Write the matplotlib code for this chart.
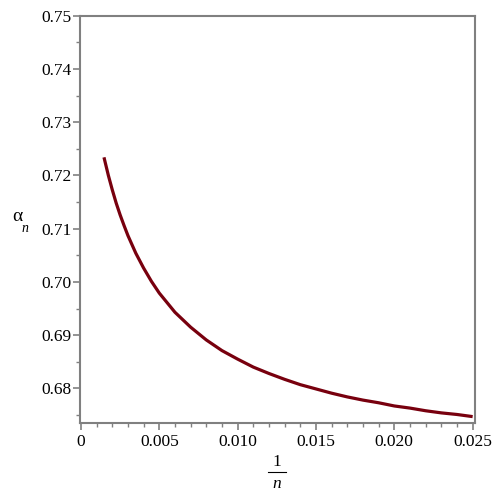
import matplotlib
matplotlib.use("Agg")
import matplotlib.pyplot as plt
from matplotlib.lines import Line2D

# Data
inv_n = [0.00147, 0.00175, 0.0020, 0.00225, 0.0025, 0.00275, 0.0030, 0.0035,
         0.0040, 0.0045, 0.0050, 0.0060, 0.0070, 0.0080, 0.0090, 0.0100,
         0.0110, 0.0120, 0.0130, 0.0140, 0.0150, 0.0160, 0.0170, 0.0180,
         0.0190, 0.0200, 0.0210, 0.0220, 0.0230, 0.0240, 0.0250]
alpha_n = [0.7234, 0.7200, 0.7173, 0.7148, 0.7126, 0.7106, 0.7087, 0.7054,
           0.7026, 0.7001, 0.6979, 0.6943, 0.6915, 0.6891, 0.6871, 0.6855,
           0.6840, 0.6828, 0.6817, 0.6807, 0.6799, 0.6791, 0.6784, 0.6778,
           0.6773, 0.6767, 0.6763, 0.6758, 0.6754, 0.6751, 0.6747]

x_ticks = [0, 0.005, 0.010, 0.015, 0.020, 0.025]
x_tick_labels = ["0", "0.005", "0.010", "0.015", "0.020", "0.025"]
y_ticks = [0.68, 0.69, 0.70, 0.71, 0.72, 0.73, 0.74, 0.75]
y_tick_labels = ["0.68", "0.69", "0.70", "0.71", "0.72", "0.73", "0.74", "0.75"]

plt.rcParams['font.family'] = ['Liberation Serif', 'DejaVu Serif']

fig = plt.figure(figsize=(5, 5), dpi=100)
ax = fig.add_axes([0.16, 0.154, 0.79, 0.8146])

ax.plot(inv_n, alpha_n, color="#78000E", lw=2.3, solid_capstyle='butt',
        solid_joinstyle='round')

ax.set_xlim(-0.00006, 0.02515)
ax.set_ylim(0.6735, 0.75)

ax.set_xticks(x_ticks)
ax.set_xticklabels(x_tick_labels)
ax.set_yticks(y_ticks)
ax.set_yticklabels(y_tick_labels)
ax.set_xticks([i * 0.001 for i in range(0, 26)], minor=True)
ax.set_yticks([0.675 + i * 0.01 for i in range(8)], minor=True)

for s in ax.spines.values():
    s.set_color("#808080")
    s.set_linewidth(1.5)

ax.tick_params(which='major', direction='out', length=5, width=1.2,
               color="#808080", labelsize=12.5, labelcolor='black', pad=1)
ax.tick_params(which='minor', direction='out', length=3, width=1.0,
               color="#808080")
ax.tick_params(axis='x', which='major', pad=3)

# y label: alpha_n
fig.text(17 / 500, 1 - 217 / 500, "α", fontsize=14, ha='center', va='center')
fig.text(25.5 / 500, 1 - 229 / 500, "n", fontsize=10, style='italic',
         ha='center', va='center')

# x label: fraction 1/n
fig.text(277 / 500, 1 - 462 / 500, "1", fontsize=12.5, ha='center', va='center')
fig.add_artist(Line2D([268 / 500, 286 / 500], [1 - 471.5 / 500, 1 - 471.5 / 500],
                      color='black', lw=0.8, transform=fig.transFigure))
fig.text(277 / 500, 1 - 484 / 500, "n", fontsize=12.5, style='italic',
         ha='center', va='center')

fig.savefig("out.png", dpi=100)
